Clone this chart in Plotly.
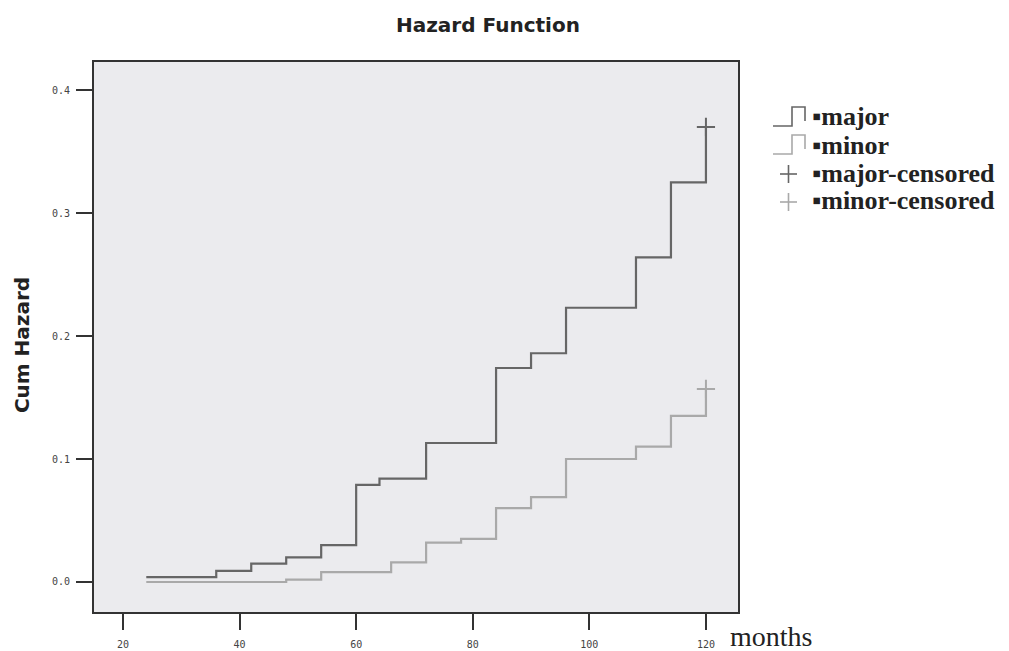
import plotly.graph_objects as go

# Data
major_months = [24, 36, 42, 48, 54, 60, 64, 72, 84, 90, 96, 108, 114, 120]
major_hazard = [0.004, 0.009, 0.015, 0.020, 0.030, 0.079, 0.084, 0.113, 0.174, 0.186, 0.223, 0.264, 0.325, 0.370]
minor_months = [24, 48, 54, 66, 72, 78, 84, 90, 96, 108, 114, 120]
minor_hazard = [0.0, 0.002, 0.008, 0.016, 0.032, 0.035, 0.060, 0.069, 0.100, 0.110, 0.135, 0.157]
major_censored_month = [120]
major_censored_hazard = [0.370]
minor_censored_month = [120]
minor_censored_hazard = [0.157]

legend_labels = ["▪major", "▪minor", "▪major-censored", "▪minor-censored"]

x_ticks = [20, 40, 60, 80, 100, 120]
x_ticktext = ["20", "40", "60", "80", "100", "120"]
y_ticks = [0.0, 0.1, 0.2, 0.3, 0.4]
y_ticktext = ["0.0", "0.1", "0.2", "0.3", "0.4"]

MAJOR_COLOR = "#666666"
MINOR_COLOR = "#a9a9a9"
W, H = 1009, 651
ML, MR, MT, MB = 94, 271, 62, 39
PW, PH = W - ML - MR, H - MT - MB


def px(xp):
    return (xp - ML) / PW


def py(yp):
    return (H - MB - yp) / PH


fig = go.Figure()
fig.add_trace(go.Scatter(x=major_months, y=major_hazard, mode="lines", line_shape="hv",
                         line=dict(color=MAJOR_COLOR, width=2.2), name=legend_labels[0]))
fig.add_trace(go.Scatter(x=minor_months, y=minor_hazard, mode="lines", line_shape="hv",
                         line=dict(color=MINOR_COLOR, width=2.2), name=legend_labels[1]))
fig.add_trace(go.Scatter(x=major_censored_month, y=major_censored_hazard, mode="markers",
                         marker=dict(symbol="cross-thin", size=13, line=dict(color=MAJOR_COLOR, width=2)),
                         name=legend_labels[2]))
fig.add_trace(go.Scatter(x=minor_censored_month, y=minor_censored_hazard, mode="markers",
                         marker=dict(symbol="cross-thin", size=13, line=dict(color=MINOR_COLOR, width=2)),
                         name=legend_labels[3]))

axis_common = dict(showline=True, mirror=True, linecolor="#333333", linewidth=2,
                   showgrid=False, zeroline=False, ticks="outside", ticklen=16,
                   tickwidth=2, tickcolor="#333333", automargin=False,
                   tickfont=dict(family="DejaVu Sans Mono", size=10, color="#444444"))

# Custom legend (step icons / crosses + serif labels), placed in the right margin
row_y = [117, 145, 173, 201]
colors = [MAJOR_COLOR, MINOR_COLOR, MAJOR_COLOR, MINOR_COLOR]
shapes = []
annotations = []
for i, (label, c, yy) in enumerate(zip(legend_labels, colors, row_y)):
    if i < 2:
        path = (f"M {px(773)},{py(yy + 9)} L {px(792)},{py(yy + 9)} L {px(792)},{py(yy - 10)} "
                f"L {px(805)},{py(yy - 10)} L {px(805)},{py(yy + 4)}")
        shapes.append(dict(type="path", xref="paper", yref="paper", path=path,
                           line=dict(color=c, width=1.6)))
    else:
        shapes.append(dict(type="line", xref="paper", yref="paper", x0=px(780), x1=px(797),
                           y0=py(yy + 1), y1=py(yy + 1), line=dict(color=c, width=1.6)))
        shapes.append(dict(type="line", xref="paper", yref="paper", x0=px(788.5), x1=px(788.5),
                           y0=py(yy - 8), y1=py(yy + 10), line=dict(color=c, width=1.6)))
    annotations.append(dict(text=f"<b>{label}</b>", xref="paper", yref="paper", x=px(810), y=py(yy),
                            xanchor="left", yanchor="middle", showarrow=False,
                            font=dict(family="Liberation Serif", size=26, color="#222222")))

annotations += [
    dict(text="<b>Cum Hazard</b>", xref="paper", yref="paper", x=-0.112, y=0.485,
         textangle=-90, showarrow=False, xanchor="center", yanchor="middle",
         font=dict(family="DejaVu Sans", size=20, color="#222222")),
    dict(text="months", xref="paper", yref="paper", x=1.052, y=-0.044,
         showarrow=False, xanchor="center", yanchor="middle",
         font=dict(family="Liberation Serif", size=28, color="#222222")),
]

fig.update_layout(
    width=W, height=H,
    margin=dict(l=ML, r=MR, t=MT, b=MB),
    paper_bgcolor="white", plot_bgcolor="#ebebee",
    showlegend=False,
    title=dict(text="<b>Hazard Function</b>", x=0.4836, xanchor="center", y=0.962, yanchor="middle",
               font=dict(family="DejaVu Sans", size=20, color="#222222")),
    xaxis=dict(range=[15.03, 125.5], tickvals=x_ticks, ticktext=x_ticktext,
               ticklabelstandoff=6, **axis_common),
    yaxis=dict(range=[-0.0244, 0.4228], tickvals=y_ticks, ticktext=y_ticktext,
               ticklabelstandoff=4, **axis_common),
    shapes=shapes,
    annotations=annotations,
)

fig.write_html("out.html", config={"displayModeBar": False},
               post_script="document.body.style.margin='0';document.body.style.overflow='hidden';")
